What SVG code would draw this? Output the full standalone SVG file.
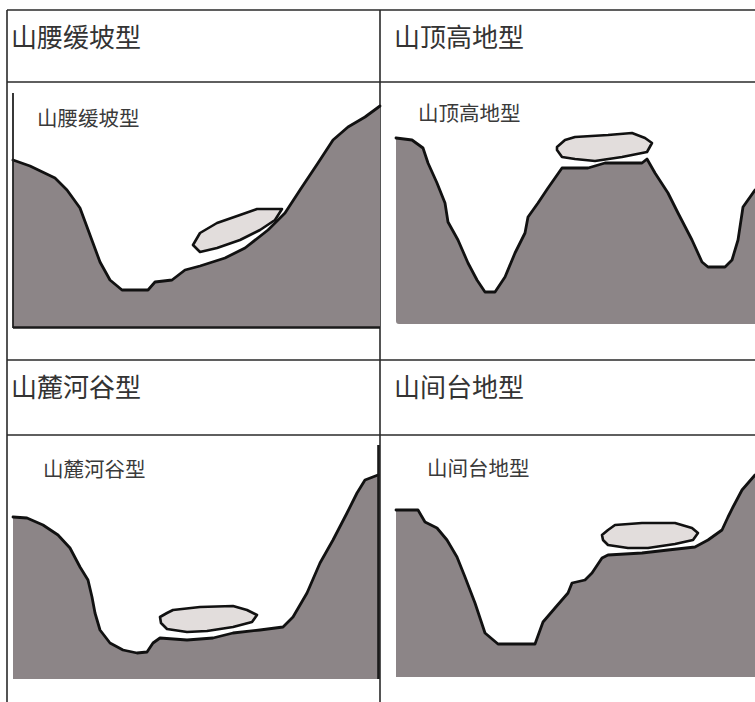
<svg xmlns="http://www.w3.org/2000/svg" width="755" height="702" viewBox="0 0 755 702">
  <style>
    .grid { stroke: #2a2a2a; stroke-width: 1.6; fill: none; }
    .head { font-family: "Noto Sans CJK SC", "Noto Sans", sans-serif; font-size: 26px; fill: #333; }
    .label { font-family: "Noto Sans CJK SC", "Noto Sans", sans-serif; font-size: 20.5px; fill: #3a3a3a; }
    .ground { fill: #8c8587; stroke: none; }
    .ridge { fill: none; stroke: #111; stroke-width: 2.8; stroke-linejoin: round; stroke-linecap: round; }
    .lens { fill: #e2dddc; stroke: #111; stroke-width: 2.6; stroke-linejoin: round; }
  </style>

  <rect width="755" height="702" fill="#ffffff"/>

  <!-- table grid -->
  <g id="table">
    <line class="grid" x1="7" y1="10" x2="755" y2="10"/>
    <line class="grid" x1="7" y1="82" x2="755" y2="82"/>
    <line class="grid" x1="7" y1="360" x2="755" y2="360"/>
    <line class="grid" x1="7" y1="435" x2="755" y2="435"/>
    <line class="grid" x1="7" y1="10" x2="7" y2="702"/>
    <line class="grid" x1="380" y1="10" x2="380" y2="702"/>
  </g>

  <!-- cell 1: 山腰缓坡型 -->
  <g id="hillside">
    <text class="head" x="11" y="47">山腰缓坡型</text>
    <path class="ground" d="M13,160 L30,166 L55,178 L67,190 L80,208 L90,235 L100,262 L110,280 L122,290 L148,290 L155,282 L172,280 L185,270 L200,266 L225,258 L245,248 L268,230 L285,213 L300,190 L318,163 L333,140 L348,127 L365,117 L380,106 L380,328 L13,328 Z"/>
    <path class="ridge" d="M13,160 L30,166 L55,178 L67,190 L80,208 L90,235 L100,262 L110,280 L122,290 L148,290 L155,282 L172,280 L185,270 L200,266 L225,258 L245,248 L268,230 L285,213 L300,190 L318,163 L333,140 L348,127 L365,117 L380,106"/>
    <line x1="13" y1="93" x2="13" y2="328" stroke="#222" stroke-width="1.8"/>
    <line x1="13" y1="327.5" x2="380" y2="327.5" stroke="#1a1a1a" stroke-width="2.6"/>
    <polygon class="lens" points="193,245 200,233 217,223 240,215 257,209 282,209 275,220 260,230 240,240 217,248 200,252"/>
    <text class="label" x="37" y="126">山腰缓坡型</text>
  </g>

  <!-- cell 2: 山顶高地型 -->
  <g id="hilltop">
    <text class="head" x="394" y="47">山顶高地型</text>
    <path class="ground" d="M396,138 L412,140 L423,148 L428,163 L437,183 L445,203 L448,222 L458,240 L468,263 L477,280 L485,292 L495,292 L505,277 L515,253 L525,233 L528,217 L538,203 L548,188 L562,168 L588,168 L605,163 L642,163 L647,159 L655,173 L668,193 L678,213 L692,240 L702,262 L708,267 L725,267 L732,260 L738,240 L743,207 L755,190 L755,324 L399,324 Q396,324 396,321 Z"/>
    <path class="ridge" d="M396,138 L412,140 L423,148 L428,163 L437,183 L445,203 L448,222 L458,240 L468,263 L477,280 L485,292 L495,292 L505,277 L515,253 L525,233 L528,217 L538,203 L548,188 L562,168 L588,168 L605,163 L642,163 L647,159 L655,173 L668,193 L678,213 L692,240 L702,262 L708,267 L725,267 L732,260 L738,240 L743,207 L755,190"/>
    <polygon class="lens" points="557,147 565,140 575,137 608,135 632,133 645,138 652,143 647,152 622,157 595,161 575,159 562,157 557,150"/>
    <text class="label" x="418" y="121">山顶高地型</text>
  </g>

  <!-- cell 3: 山麓河谷型 -->
  <g id="piedmont">
    <text class="head" x="11" y="397">山麓河谷型</text>
    <path class="ground" d="M13,517 L27,518 L43,525 L58,535 L70,548 L80,567 L88,580 L92,597 L95,613 L100,630 L110,643 L123,650 L137,653 L147,652 L153,643 L160,638 L187,640 L213,638 L233,633 L260,630 L283,627 L293,617 L307,593 L320,563 L333,540 L347,513 L357,493 L365,480 L378,475 L378,679 L13,679 Z"/>
    <path class="ridge" d="M13,517 L27,518 L43,525 L58,535 L70,548 L80,567 L88,580 L92,597 L95,613 L100,630 L110,643 L123,650 L137,653 L147,652 L153,643 L160,638 L187,640 L213,638 L233,633 L260,630 L283,627 L293,617 L307,593 L320,563 L333,540 L347,513 L357,493 L365,480 L378,475"/>
    <line x1="378.5" y1="445" x2="378.5" y2="679" stroke="#1a1a1a" stroke-width="2.6"/>
    <polygon class="lens" points="160,617 167,613 173,610 200,607 233,606 247,610 257,615 252,622 233,627 207,631 187,632 167,629 161,623"/>
    <text class="label" x="43" y="477">山麓河谷型</text>
  </g>

  <!-- cell 4: 山间台地型 -->
  <g id="terrace">
    <text class="head" x="394" y="397">山间台地型</text>
    <path class="ground" d="M396,510 L418,510 L425,522 L437,528 L447,540 L457,557 L465,577 L475,603 L485,633 L498,644 L535,644 L543,622 L555,608 L568,593 L572,583 L585,580 L592,573 L602,558 L608,555 L642,553 L668,550 L695,547 L708,540 L722,530 L728,517 L733,507 L742,490 L755,475 L755,677 L396,677 Z"/>
    <path class="ridge" d="M396,510 L418,510 L425,522 L437,528 L447,540 L457,557 L465,577 L475,603 L485,633 L498,644 L535,644 L543,622 L555,608 L568,593 L572,583 L585,580 L592,573 L602,558 L608,555 L642,553 L668,550 L695,547 L708,540 L722,530 L728,517 L733,507 L742,490 L755,475"/>
    <polygon class="lens" points="602,535 608,530 615,525 642,523 675,523 692,528 698,533 693,540 675,544 648,548 628,548 608,545 603,540"/>
    <text class="label" x="427" y="476">山间台地型</text>
  </g>
</svg>
